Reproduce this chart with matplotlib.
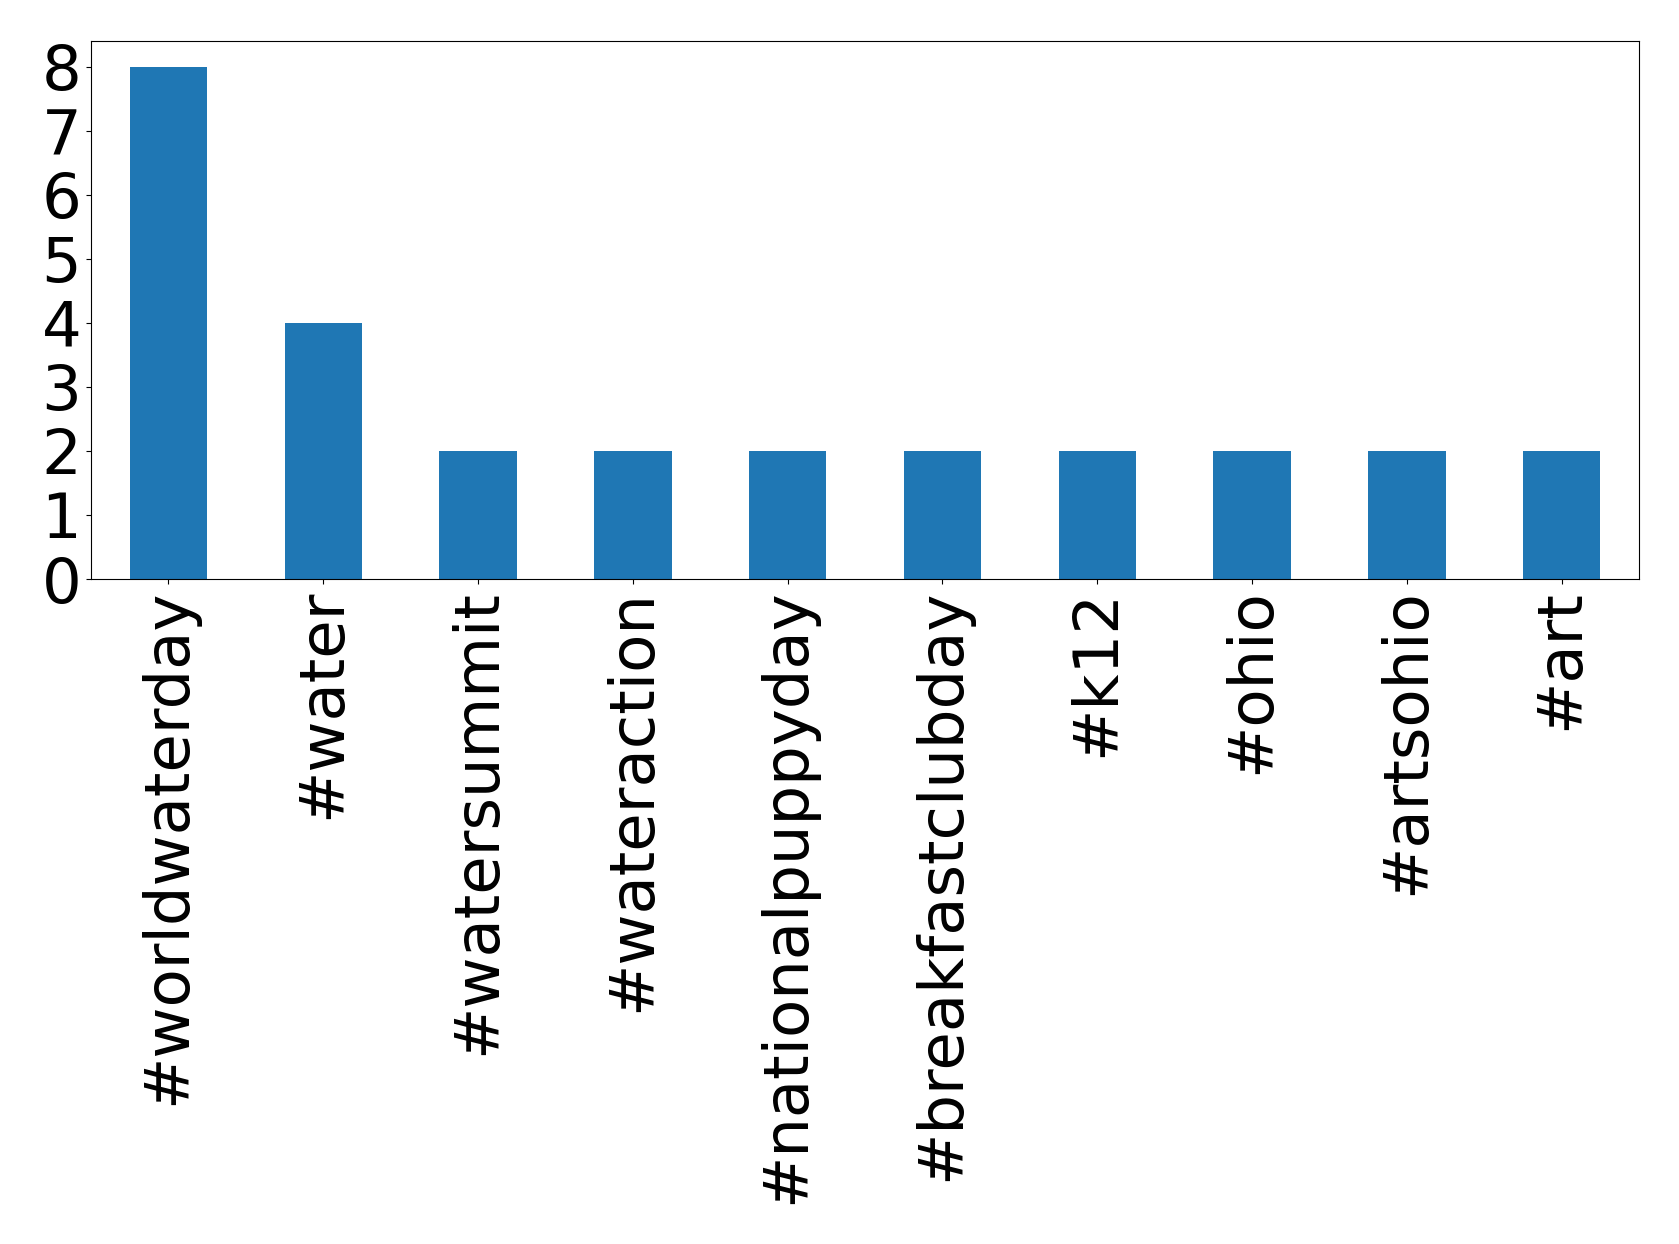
import matplotlib
matplotlib.use("Agg")
import matplotlib.pyplot as plt
import numpy as np

hashtags = [
    "#worldwaterday", "#water", "#watersummit", "#wateraction",
    "#nationalpuppyday", "#breakfastclubday", "#k12", "#ohio",
    "#artsohio", "#art",
]
counts = [8, 4, 2, 2, 2, 2, 2, 2, 2, 2]

fig = plt.figure(figsize=(16.79, 12.44), dpi=100)
ax = fig.add_axes([91 / 1679, 1 - 579 / 1244, (1639 - 91) / 1679, (579 - 41) / 1244])

x = np.arange(len(hashtags))
ax.bar(x, counts, width=0.5, color="#1f77b4")
ax.set_xlim(-0.5, len(hashtags) - 0.5)
ax.set_ylim(0, 8.4)
ax.set_xticks(x)
ax.set_xticklabels(hashtags, rotation=90)
ax.set_yticks(range(0, 9))
ax.tick_params(axis="both", labelsize=45)

fig.savefig("out.png", dpi=100)
